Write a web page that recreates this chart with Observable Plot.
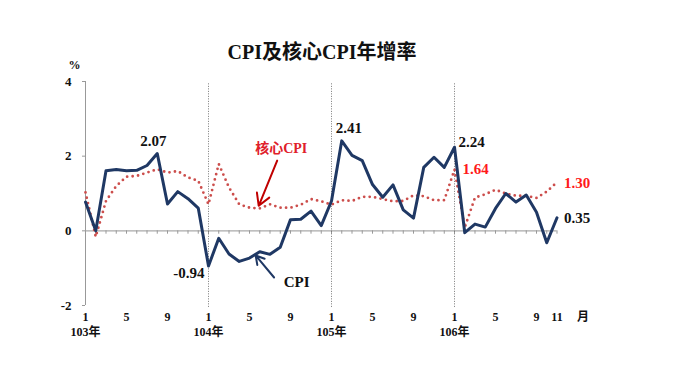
<!DOCTYPE html>
<html><head><meta charset="utf-8">
<script src="https://cdn.jsdelivr.net/npm/d3@7"></script>
<script src="https://cdn.jsdelivr.net/npm/@observablehq/plot@0.6"></script>
<style>
body{margin:0;background:#fff;}
#wrap{position:relative;width:680px;height:382px;}
#title{position:absolute;top:36px;left:0;width:644px;text-align:center;font-family:"Liberation Serif","Noto Sans CJK TC",serif;font-weight:bold;font-size:20px;color:#111;}
</style>
</head><body>
<div id="wrap"><div id="title">CPI及核心CPI年增率</div></div>
<script>
// CPI year-over-year (%), 103年1月 – 106年11月
const cpi = [0.77,0.00,1.61,1.64,1.61,1.62,1.75,2.07,0.72,1.05,0.86,0.61,
  -0.94,-0.20,-0.62,-0.82,-0.73,-0.56,-0.63,-0.44,0.30,0.31,0.53,0.14,
  0.80,2.41,2.02,1.88,1.24,0.90,1.23,0.56,0.34,1.70,1.97,1.70,
  2.24,-0.05,0.18,0.10,0.60,1.00,0.77,0.96,0.50,-0.32,0.35];
// Core CPI year-over-year (%)
const core = [1.03,-0.16,0.80,1.20,1.45,1.47,1.56,1.65,1.56,1.60,1.43,1.34,
  0.71,1.79,1.16,0.71,0.62,0.60,0.71,0.62,0.62,0.70,0.85,0.79,
  0.70,0.82,0.80,0.91,0.91,0.85,0.79,0.80,0.95,0.93,0.82,0.82,
  1.64,0.09,0.89,0.98,1.10,1.00,0.94,0.94,0.88,1.05,1.30];
const monthTickIdx = [0,4,8,12,16,20,24,28,32,36,40,44,46];
const monthTickLabels = ["1","5","9","1","5","9","1","5","9","1","5","9","11"];
const yearIdx = [0,12,24,36];
const yearLabels = ["103年","104年","105年","106年"];
const yTicks = [-2,0,2,4];

const rows = cpi.map((v,i)=>({i, cpi:v, core:core[i]}));
const allIdx = rows.map(d=>d.i);
const font = '"Liberation Serif","Noto Sans CJK TC",serif';
const navy = "#1f3864", red = "#cc4e4c";

const chart = Plot.plot({
  width: 680, height: 382,
  marginLeft: 85, marginRight: 123.5, marginTop: 81, marginBottom: 77,
  style: {fontFamily: font, background: "transparent"},
  x: {domain: [0, 46], axis: null},
  y: {domain: [-2, 4], axis: null},
  marks: [
    Plot.axisY({ticks: yTicks, tickSize: 3, tickPadding: 11, stroke: "#999", fill: "#111", fontSize: 13, fontWeight: "bold", tickFormat: d=>String(d)}),
    Plot.ruleX([0], {stroke: "#999"}),
    Plot.ruleY([0], {stroke: "#aaa", strokeWidth: 1.2}),
    Plot.ruleX(allIdx, {x: d=>d, y1: 0, y2: -0.09, stroke: "#999"}),
    Plot.ruleX(yearIdx.slice(1), {x: d=>d, y1: -2.05, y2: 3.95, stroke: "#777", strokeDasharray: "1,1.5"}),
    Plot.line(rows, {x: "i", y: "core", stroke: red, strokeWidth: 2.8, strokeDasharray: "0,5.5", strokeLinecap: "round"}),
    Plot.line(rows, {x: "i", y: "cpi", stroke: navy, strokeWidth: 3}),
    Plot.text(monthTickIdx, {x: d=>d, text: (d,k)=>monthTickLabels[k], frameAnchor: "bottom", dy: 15, fontSize: 12, fontWeight: "bold", fill: "#111"}),
    Plot.text(yearIdx, {x: d=>d, text: (d,k)=>yearLabels[k], frameAnchor: "bottom", dy: 30, fontSize: 12, fontWeight: "bold", fill: "#111"}),
    Plot.text(["月"], {frameAnchor: "bottom-right", dx: 32, dy: 15, fontSize: 12, fontWeight: "bold", fill: "#111"}),
    Plot.text(["%"], {frameAnchor: "top-left", dx: -17, dy: -21, fontSize: 12, fontWeight: "bold", fill: "#111"}),
    // value labels
    Plot.text([7], {x: d=>d, y: d=>cpi[d], text: d=>cpi[d].toFixed(2), dx: -4, dy: -12, fontSize: 15, fontWeight: "bold", fill: "#111"}),
    Plot.text([12], {x: d=>d, y: d=>cpi[d], text: d=>cpi[d].toFixed(2), textAnchor: "end", dx: -4, dy: 7, fontSize: 15, fontWeight: "bold", fill: "#111"}),
    Plot.text([25], {x: d=>d, y: d=>cpi[d], text: d=>cpi[d].toFixed(2), dx: 7, dy: -13, fontSize: 15, fontWeight: "bold", fill: "#111"}),
    Plot.text([36], {x: d=>d, y: d=>cpi[d], text: d=>cpi[d].toFixed(2), textAnchor: "start", dx: 4, dy: -5, fontSize: 15, fontWeight: "bold", fill: "#111"}),
    Plot.text([46], {x: d=>d, y: d=>cpi[d], text: d=>cpi[d].toFixed(2), textAnchor: "start", dx: 7, dy: 0, fontSize: 15, fontWeight: "bold", fill: "#111"}),
    Plot.text([36], {x: d=>d, y: d=>core[d], text: d=>core[d].toFixed(2), textAnchor: "start", dx: 8, dy: 0, fontSize: 15, fontWeight: "bold", fill: "#ff1a1a"}),
    Plot.text([46], {x: d=>d, y: d=>core[d], text: d=>core[d].toFixed(2), textAnchor: "start", dx: 7, dy: 1, fontSize: 15, fontWeight: "bold", fill: "#ff1a1a"}),
    // series annotations
    Plot.text(["核心CPI"], {x: 19.1, y: 2.215, fontSize: 14, fontWeight: "bold", fill: "#e0202a"}),
    Plot.arrow([0], {x1: 18.7, y1: 1.88, x2: 16.9, y2: 0.67, stroke: "#c00000", strokeWidth: 2, headLength: 10}),
    Plot.text(["CPI"], {x: 20.6, y: -1.385, fontSize: 15, fontWeight: "bold", fill: "#111"}),
    Plot.arrow([0], {x1: 18.4, y1: -1.25, x2: 16.6, y2: -0.66, stroke: navy, strokeWidth: 2, headLength: 10})
  ]
});
document.getElementById("wrap").prepend(chart);
chart.style.position = "absolute"; chart.style.left = "0"; chart.style.top = "0";
document.getElementById("title").style.zIndex = 2;
</script>
</body></html>
